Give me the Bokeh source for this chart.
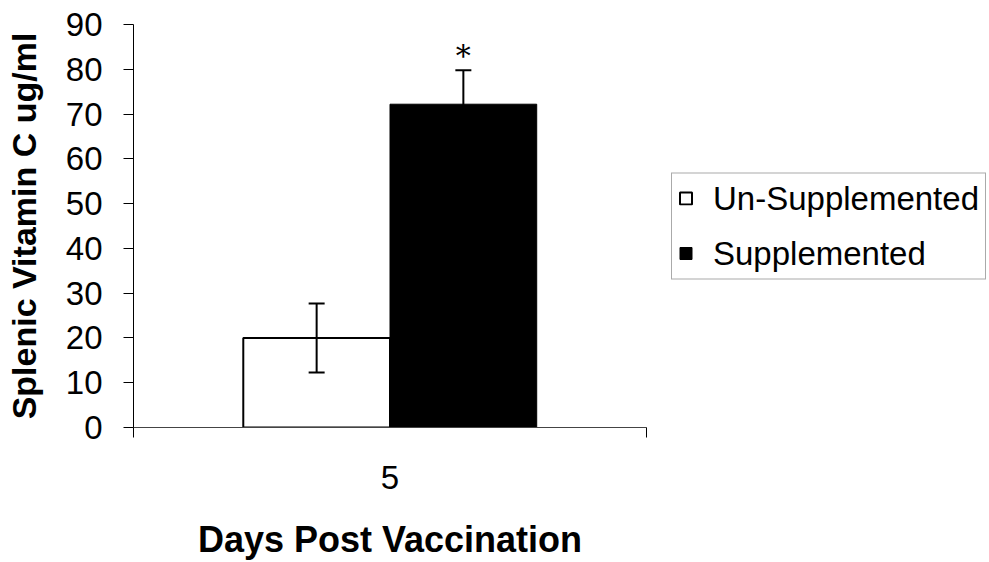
from bokeh.plotting import figure
from bokeh.models import (ColumnDataSource, FactorRange, Range1d, LinearAxis, FixedTicker,
                          Whisker, TeeHead, Legend, LegendItem)
from bokeh.transform import dodge
from bokeh.core.properties import value
from bokeh.embed import file_html
from bokeh.resources import INLINE

# ---- data ----
days = ["5"]
unsupplemented = [20.0]
unsupplemented_err = [7.7]
supplemented = [72.2]
supplemented_err = [7.6]
significance = ["*"]
y_ticks = [0, 10, 20, 30, 40, 50, 60, 70, 80, 90]

src = ColumnDataSource(dict(
    day=days,
    unsup=unsupplemented,
    unsup_lo=[v - e for v, e in zip(unsupplemented, unsupplemented_err)],
    unsup_hi=[v + e for v, e in zip(unsupplemented, unsupplemented_err)],
    sup=supplemented,
    sup_lo=[v - e for v, e in zip(supplemented, supplemented_err)],
    sup_hi=[v + e for v, e in zip(supplemented, supplemented_err)],
    sig=significance,
))

FONT = "Liberation Sans"

p = figure(frame_width=513, frame_height=403, x_range=FactorRange(factors=days, range_padding=0),
           y_range=Range1d(0, 90), x_axis_type=None, y_axis_type=None,
           output_backend="svg", toolbar_location=None,
           min_border_left=133, min_border_right=10, min_border_top=24, min_border_bottom=120)
p.outline_line_color = None
p.xgrid.visible = False
p.ygrid.visible = False

# y axis
yax = LinearAxis(ticker=FixedTicker(ticks=y_ticks), axis_label="Splenic Vitamin C ug/ml")
yax.major_tick_out = 10
yax.major_tick_in = 0
yax.minor_tick_line_color = None
yax.major_label_text_font = FONT
yax.major_label_text_font_size = "33px"
yax.major_label_text_color = "black"
yax.major_label_standoff = 21
yax.axis_label_text_font = FONT
yax.axis_label_text_font_style = "bold"
yax.axis_label_text_font_size = "34px"
yax.axis_label_text_color = "black"
yax.axis_label_standoff = 20
yax.axis_line_color = "black"
yax.major_tick_line_color = "black"
p.add_layout(yax, "left")

# x axis (category label centred, ticks at category boundaries)
xax = LinearAxis(ticker=FixedTicker(ticks=[0.5], minor_ticks=[0, 1]),
                 major_label_overrides={0.5: days[0]}, axis_label="Days Post Vaccination")
xax.major_tick_line_color = None
xax.major_tick_out = 10
xax.major_tick_in = 0
xax.minor_tick_out = 10
xax.minor_tick_in = 0
xax.minor_tick_line_color = "black"
xax.axis_line_color = "#444444"
xax.major_label_text_font = FONT
xax.major_label_text_font_size = "33px"
xax.major_label_text_color = "black"
xax.major_label_standoff = 28
xax.axis_label_text_font = FONT
xax.axis_label_text_font_style = "bold"
xax.axis_label_text_font_size = "36px"
xax.axis_label_text_color = "black"
xax.axis_label_standoff = 27
p.add_layout(xax, "below")

# bars
r1 = p.vbar(x=dodge("day", -0.143, range=p.x_range), top="unsup", width=0.286, bottom=0,
            source=src, fill_color="white", line_color="black", line_width=2)
r2 = p.vbar(x=dodge("day", 0.143, range=p.x_range), top="sup", width=0.286, bottom=0,
            source=src, fill_color="black", line_color="black", line_width=1)

# error bars
for xoff, lo, hi in [(-0.143, "unsup_lo", "unsup_hi"), (0.143, "sup_lo", "sup_hi")]:
    w = Whisker(base=dodge("day", xoff, range=p.x_range), lower=lo, upper=hi, source=src,
                line_color="black", line_width=2, level="overlay",
                upper_head=TeeHead(size=16, line_color="black", line_width=2),
                lower_head=TeeHead(size=16, line_color="black", line_width=2))
    p.add_layout(w)

# significance star
p.text(x=dodge("day", 0.143, range=p.x_range), y="sup_hi", text="sig", source=src,
       text_font=value("DejaVu Serif"), text_font_size="30px", text_align="center",
       text_baseline="alphabetic", y_offset=-15, text_color="black")

legend = Legend(items=[LegendItem(label="Un-Supplemented", renderers=[r1]),
                       LegendItem(label="Supplemented", renderers=[r2])],
                location="center_left")
legend.label_text_font = FONT
legend.label_text_font_size = "33px"
legend.label_text_color = "black"
legend.glyph_width = 15
legend.glyph_height = 15
legend.label_standoff = 20
legend.padding = 6
legend.spacing = 17
legend.margin = 25
legend.border_line_color = "#555555"
legend.border_line_width = 1
p.add_layout(legend, "right")

open("out.html", "w").write(file_html(p, INLINE))
